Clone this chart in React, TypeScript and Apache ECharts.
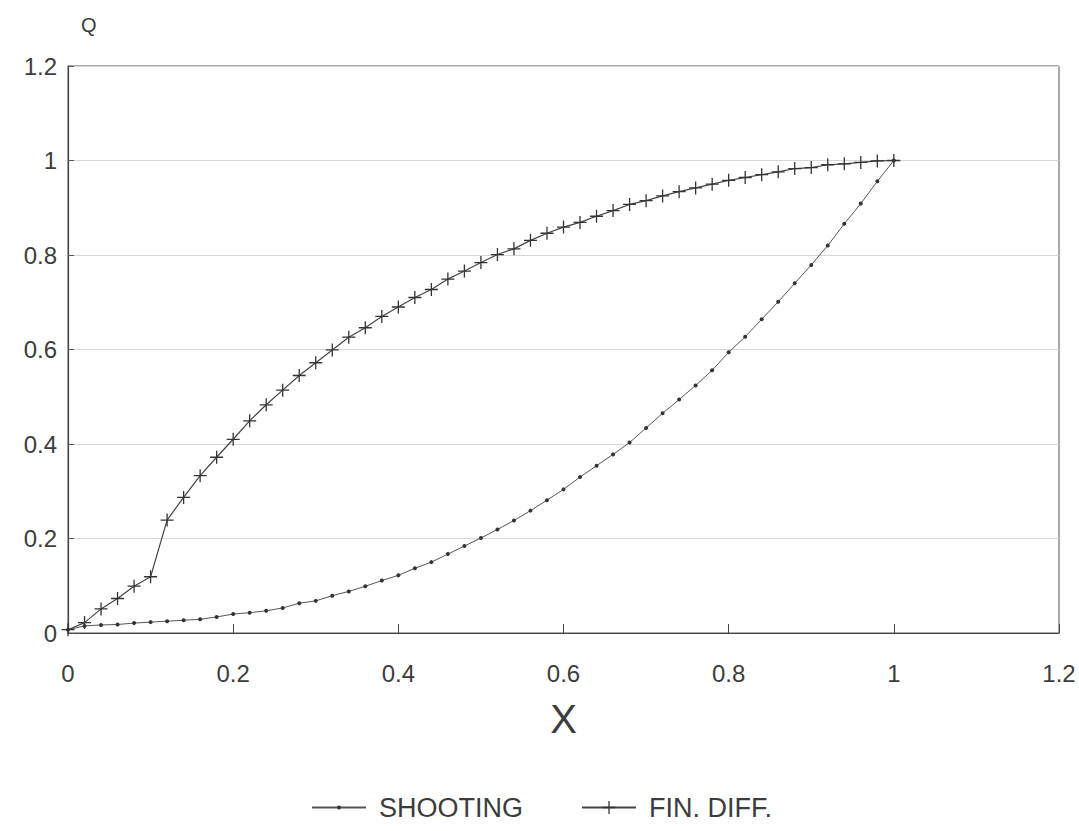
import React, { useEffect, useRef } from "react";
import * as echarts from "echarts";

const xValues = [
  0.0, 0.02, 0.04, 0.06, 0.08, 0.1, 0.12, 0.14, 0.16, 0.18,
  0.2, 0.22, 0.24, 0.26, 0.28, 0.3, 0.32, 0.34, 0.36, 0.38,
  0.4, 0.42, 0.44, 0.46, 0.48, 0.5, 0.52, 0.54, 0.56, 0.58,
  0.6, 0.62, 0.64, 0.66, 0.68, 0.7, 0.72, 0.74, 0.76, 0.78,
  0.8, 0.82, 0.84, 0.86, 0.88, 0.9, 0.92, 0.94, 0.96, 0.98, 1.0,
];

const shootingQ = [
  0.007, 0.015, 0.017, 0.018, 0.021, 0.023, 0.025, 0.027, 0.029, 0.034,
  0.04, 0.043, 0.047, 0.053, 0.063, 0.068, 0.079, 0.088, 0.099, 0.111,
  0.122, 0.137, 0.15, 0.167, 0.184, 0.201, 0.219, 0.238, 0.259, 0.281,
  0.304, 0.33, 0.354, 0.378, 0.403, 0.434, 0.465, 0.494, 0.524, 0.556,
  0.594, 0.627, 0.664, 0.701, 0.74, 0.779, 0.82, 0.866, 0.909, 0.956, 1.0,
];

const finDiffQ = [
  0.007, 0.022, 0.051, 0.073, 0.099, 0.119, 0.239, 0.287, 0.333, 0.372,
  0.41, 0.449, 0.483, 0.514, 0.545, 0.572, 0.599, 0.626, 0.646, 0.67,
  0.69, 0.71, 0.727, 0.749, 0.766, 0.784, 0.801, 0.813, 0.831, 0.846,
  0.859, 0.869, 0.882, 0.894, 0.907, 0.915, 0.925, 0.934, 0.942, 0.95,
  0.958, 0.964, 0.97, 0.976, 0.983, 0.985, 0.991, 0.993, 0.996, 0.999, 1.0,
];

const seriesNames = ["SHOOTING", "FIN. DIFF."];
const axisName = { x: "X", y: "Q" };

const PLUS =
  "path://M10.8,0 H13.2 V10.8 H24 V13.2 H13.2 V24 H10.8 V13.2 H0 V10.8 H10.8 Z";

export default function App() {
  const ref = useRef<HTMLDivElement>(null);

  useEffect(() => {
    if (!ref.current) return;
    const chart = echarts.init(ref.current, undefined, { renderer: "svg" });
    const font = "'Liberation Sans', Arial, sans-serif";
    const ink = "#3c3c3c";
    const legendText = {
      fontSize: 27,
      color: ink,
      fontFamily: font,
      padding: [0, 0, 0, 8],
    };
    chart.setOption({
      animation: false,
      backgroundColor: "#ffffff",
      textStyle: { fontFamily: font },
      grid: {
        left: 68,
        right: 20,
        top: 66,
        bottom: 198,
        show: true,
        borderColor: "#555",
        borderWidth: 1,
        backgroundColor: "transparent",
      },
      legend: [
        {
          top: 789,
          left: 306,
          itemWidth: 54,
          itemHeight: 5,
          textStyle: legendText,
          data: [seriesNames[0]],
        },
        {
          top: 789,
          left: 576,
          itemWidth: 54,
          itemHeight: 16,
          textStyle: legendText,
          data: [seriesNames[1]],
        },
      ],
      xAxis: {
        type: "value",
        min: 0,
        max: 1.2,
        interval: 0.2,
        name: axisName.x,
        nameLocation: "middle",
        nameGap: 66,
        nameTextStyle: { fontSize: 40, color: ink, fontFamily: font },
        axisLine: { show: true, lineStyle: { color: "#444", width: 1.2 } },
        axisTick: { show: true, inside: true, length: 9, lineStyle: { color: "#444" } },
        axisLabel: {
          fontSize: 24,
          color: ink,
          margin: 28,
          formatter: (v: number) => String(+v.toFixed(1)),
        },
        splitLine: { show: false },
      },
      yAxis: {
        type: "value",
        min: 0,
        max: 1.2,
        interval: 0.2,
        name: axisName.y,
        nameLocation: "end",
        nameGap: 31,
        nameTextStyle: {
          fontSize: 20,
          color: ink,
          align: "left",
          padding: [0, 0, 0, 13],
        },
        axisLine: { show: true, lineStyle: { color: "#444", width: 1.2 } },
        axisTick: { show: true, inside: true, length: 6, lineStyle: { color: "#555" } },
        axisLabel: {
          fontSize: 24,
          color: ink,
          margin: 11,
          formatter: (v: number) => String(+v.toFixed(1)),
        },
        splitLine: { show: true, lineStyle: { color: "#d6d6d6", width: 1 } },
      },
      series: [
        {
          name: seriesNames[0],
          type: "line",
          data: xValues.map((x, i) => [x, shootingQ[i]]),
          symbol: "circle",
          symbolSize: 4,
          showAllSymbol: true,
          lineStyle: { color: "#555", width: 1 },
          itemStyle: { color: "#333" },
        },
        {
          name: seriesNames[1],
          type: "line",
          data: xValues.map((x, i) => [x, finDiffQ[i]]),
          symbol: PLUS,
          symbolSize: 13,
          showAllSymbol: true,
          lineStyle: { color: "#444", width: 1.2 },
          itemStyle: { color: "#333" },
        },
      ],
    });
    return () => chart.dispose();
  }, []);

  return (
    <div
      ref={ref}
      style={{ position: "fixed", left: 0, top: 0, width: 1079, height: 831, background: "#fff" }}
    />
  );
}
